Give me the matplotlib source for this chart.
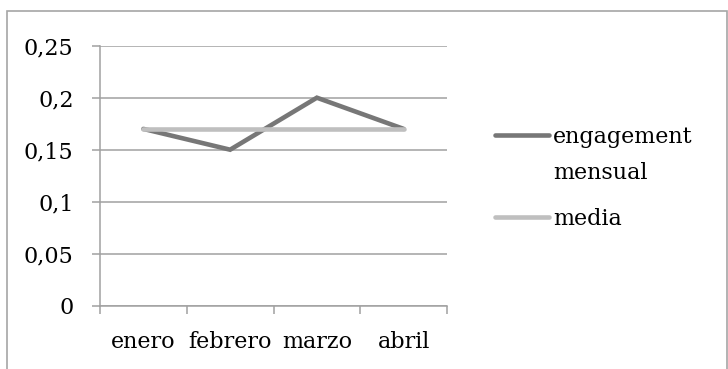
import matplotlib.pyplot as plt
from matplotlib.lines import Line2D
from matplotlib.patches import Rectangle
from matplotlib.ticker import FuncFormatter

# data
meses = ["enero", "febrero", "marzo", "abril"]
engagement = [0.17, 0.15, 0.20, 0.17]
media = [0.17, 0.17, 0.17, 0.17]
nombres = ["engagement\nmensual", "media"]
colores = ["#777777", "#bfbfbf"]

plt.rcParams['font.family'] = ['DejaVu Serif']
plt.rcParams['font.size'] = 16

W, H = 728, 369
fig = plt.figure(figsize=(W / 100, H / 100), dpi=100)
ax = fig.add_axes([100 / W, 1 - 305.7 / H, 347 / W, 260 / H])

x = list(range(len(meses)))
ax.plot(x, engagement, color=colores[0], lw=3.3, solid_capstyle='round',
        solid_joinstyle='miter', zorder=3)
ax.plot(x, media, color=colores[1], lw=3.3, solid_capstyle='round', zorder=4)

ax.set_xlim(-0.5, len(meses) - 0.5)
ax.set_ylim(0, 0.25)
ax.set_yticks([0, 0.05, 0.1, 0.15, 0.2, 0.25])
ax.yaxis.set_major_formatter(FuncFormatter(lambda v, p: ("%g" % round(v, 2)).replace('.', ',')))
ax.grid(axis='y', color='#a0a0a0', lw=1.1)
ax.set_axisbelow(True)

# category boundaries as major ticks, names as minor ticks
ax.set_xticks([i - 0.5 for i in range(len(meses) + 1)])
ax.set_xticklabels([])
ax.set_xticks(x, minor=True)
ax.set_xticklabels(meses, minor=True)
ax.tick_params(axis='x', which='major', length=6, width=1.1, color='#a0a0a0')
ax.tick_params(axis='x', which='minor', length=0, pad=18)
ax.tick_params(axis='y', length=6, width=1.1, color='#a0a0a0', pad=13)

for s in ['top', 'right']:
    ax.spines[s].set_visible(False)
for s in ['left', 'bottom']:
    ax.spines[s].set_color('#a0a0a0')
    ax.spines[s].set_linewidth(1.1)

# legend drawn by hand so the handle sits at the first line
ly = [135, 217]
for i in range(2):
    y = 1 - ly[i] / H
    fig.add_artist(Line2D([495 / W, 549 / W], [y, y], color=colores[i], lw=3.3,
                          solid_capstyle='round', transform=fig.transFigure))
    fig.text(553 / W, y + 9 / H, nombres[i], va='top', ha='left', linespacing=1.85,
             transform=fig.transFigure)

# outer frame
fig.add_artist(Rectangle((7 / W, -0.1), 720 / W, 1.1 - 11 / H, fill=False,
                         edgecolor='#a6a6a6', lw=1.2, transform=fig.transFigure))

fig.savefig("out.png", dpi=100)
